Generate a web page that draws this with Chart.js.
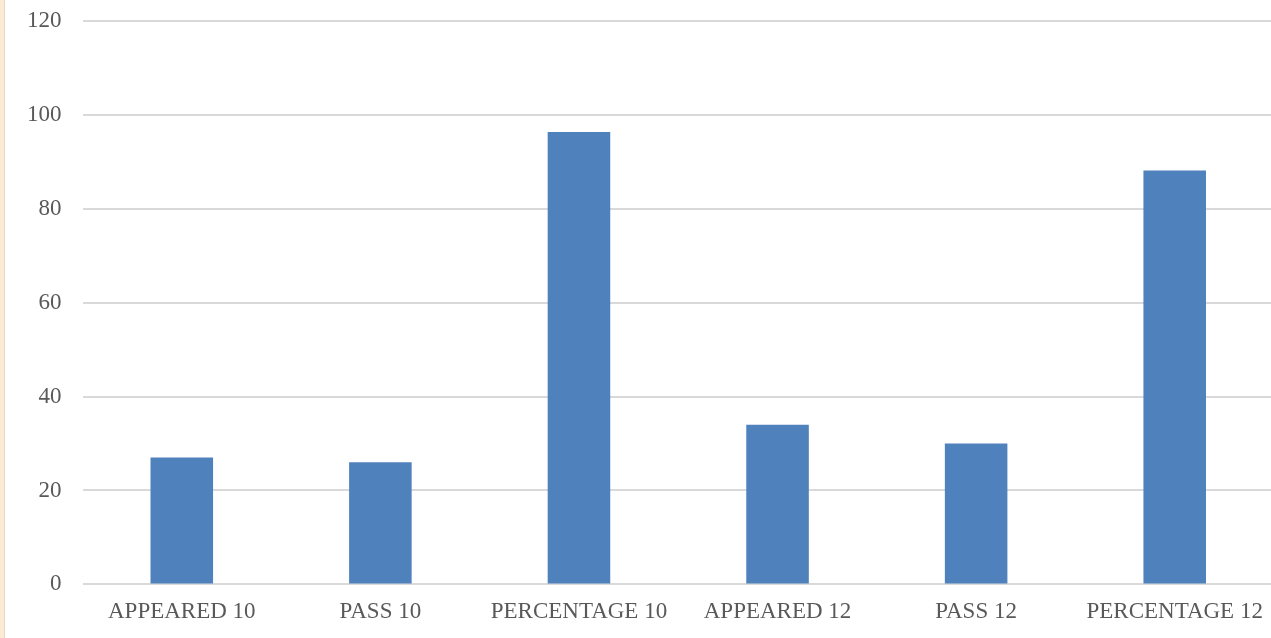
<!DOCTYPE html>
<html>
<head>
<meta charset="utf-8">
<script src="https://cdn.jsdelivr.net/npm/chart.js@4/dist/chart.umd.min.js"></script>
<style>
html, body { margin: 0; padding: 0; background: #fff; }
body { width: 1271px; height: 638px; overflow: hidden; position: relative; }
#edge { position: absolute; left: 0; top: 0; width: 4px; height: 638px; background: #fcebd2; border-right: 1px solid #e8d9c4; z-index: 2; }
#wrap { position: absolute; left: 5px; top: -14px; width: 1269px; height: 652px; }
</style>
</head>
<body>
<div id="edge"></div>
<div id="wrap"><canvas id="c"></canvas></div>
<script>
const categories = ["APPEARED 10", "PASS 10", "PERCENTAGE 10", "APPEARED 12", "PASS 12", "PERCENTAGE 12"];
const values = [27, 26, 96.3, 34, 30, 88.1];
const yTicks = [0, 20, 40, 60, 80, 100, 120];

new Chart(document.getElementById('c'), {
  type: 'bar',
  data: {
    labels: categories,
    datasets: [{
      data: values,
      backgroundColor: '#4f81bd',
      barPercentage: 0.315,
      categoryPercentage: 1.0
    }]
  },
  options: {
    responsive: true,
    maintainAspectRatio: false,
    animation: false,
    layout: { padding: { top: 0, right: 0, bottom: 6, left: 1 } },
    plugins: { legend: { display: false }, tooltip: { enabled: false } },
    scales: {
      x: {
        grid: { display: false },
        border: { display: false },
        ticks: { color: '#595959', font: { family: 'Liberation Serif', size: 23 }, maxRotation: 0, padding: 6 }
      },
      y: {
        min: 0, max: 120,
        afterBuildTicks: axis => { axis.ticks = yTicks.map(v => ({ value: v })); },
        grid: { color: '#d9d9d9', lineWidth: 2, drawTicks: false },
        border: { display: false },
        ticks: { color: '#595959', font: { family: 'Liberation Serif', size: 23 }, padding: 21 }
      }
    }
  }
});
</script>
</body>
</html>
